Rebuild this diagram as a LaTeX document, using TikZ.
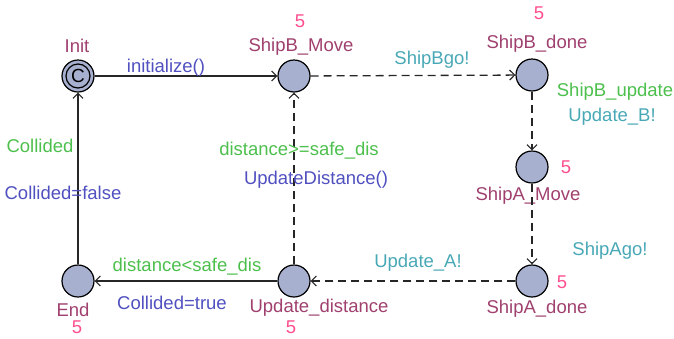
\documentclass[tikz,border=0pt]{standalone}
\usepackage{fontspec}
\setmainfont{Liberation Sans}
\usetikzlibrary{arrows.meta}

\definecolor{locfill}{HTML}{A8B0D0}
\definecolor{locname}{HTML}{A0406E}
\definecolor{invcol}{HTML}{FF4F8F}
\definecolor{guardcol}{HTML}{4CBF4C}
\definecolor{synccol}{HTML}{48A8B6}
\definecolor{updcol}{HTML}{5050C0}

\tikzset{
  loc/.style={circle, draw=black, line width=1.2pt, fill=locfill,
              minimum size=32pt, inner sep=0pt},
  txt/.style={anchor=base, inner sep=0pt,
              font=\fontsize{18.5}{20}\selectfont},
  lname/.style={txt, text=locname},
  inv/.style={txt, text=invcol},
  guard/.style={txt, text=guardcol},
  sync/.style={txt, text=synccol},
  upd/.style={txt, text=updcol},
  edge/.style={draw=black!85, line width=1.3pt,
               -{Straight Barb[length=5pt,width=10pt,line width=1.1pt]}},
  dedge/.style={edge, dash pattern=on 8pt off 5pt},
}

\begin{document}
\begin{tikzpicture}[x=1pt, y=-1pt]
\useasboundingbox (0,0) rectangle (674,338);

% locations
\node[loc] (init)  at (78,76)   {};
\draw[line width=1.2pt] (init.center) circle (12pt);
\node[font=\fontsize{19}{19}\selectfont, inner sep=0pt] at (init.center) {C};
\node[loc] (bmove) at (294,76)  {};
\node[loc] (bdone) at (532,75)  {};
\node[loc] (amove) at (532,167) {};
\node[loc] (adone) at (532,281) {};
\node[loc] (upd)   at (294,281) {};
\node[loc] (fin)   at (78,281)  {};

% location names and invariants
\node[lname] (n1) at (77,52)   {Init};
\node[lname] (n2) at (301,51)  {ShipB\_Move};
\node[inv]   (i2) at (300,27)  {5};
\node[lname] (n3) at (537,48)  {ShipB\_done};
\node[inv]   (i3) at (539,19)  {5};
\node[lname] (n4) at (528,200) {ShipA\_Move};
\node[inv]   (i4) at (566,173) {5};
\node[lname] (n5) at (537,313) {ShipA\_done};
\node[inv]   (i5) at (562,288) {5};
\node[lname] (n6) at (319,312) {Update\_distance};
\node[inv]   (i6) at (291,333) {5};
\node[lname] (n7) at (73,316)  {End};
\node[inv]   (i7) at (77,333)  {5};

% edges
\draw[edge]  (init) -- (bmove);
\draw[dedge] (bmove) -- (bdone);
\draw[dedge] (bdone) -- (amove);
\draw[dedge] (amove) -- (adone);
\draw[dedge] (adone) -- (upd);
\draw[dedge] (upd) -- (bmove);
\draw[edge]  (upd) -- (fin);
\draw[edge]  (fin) -- (init);

% edge labels
\node[upd]   (e1) at (166,72)  {initialize()};
\node[sync]  (e2) at (432,64)  {ShipBgo!};
\node[guard] (e3) at (615,96)  {ShipB\_update};
\node[sync]  (e4) at (612,121) {Update\_B!};
\node[sync]  (e5) at (610,255) {ShipAgo!};
\node[sync]  (e6) at (418,267) {Update\_A!};
\node[guard] (e7) at (299,155) {distance>=safe\_dis};
\node[upd]   (e8) at (316,184) {UpdateDistance()};
\node[guard] (e9) at (187,271) {distance<safe\_dis};
\node[upd]   (e10) at (172,309) {Collided=true};
\node[guard] (e11) at (40,152) {Collided};
\node[upd]   (e12) at (63,199) {Collided=false};
\end{tikzpicture}
\end{document}
